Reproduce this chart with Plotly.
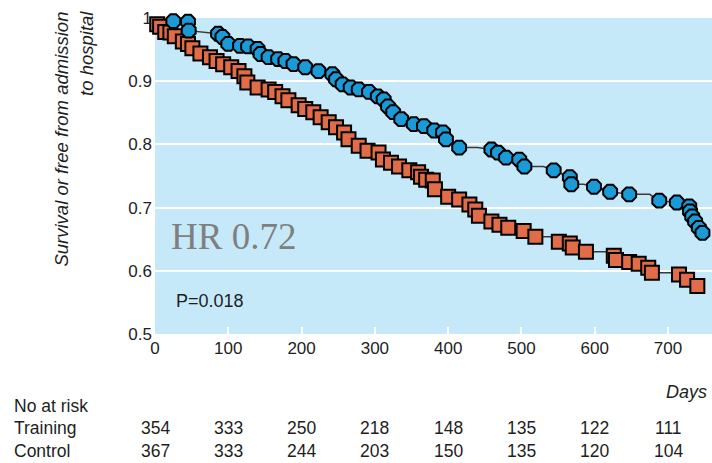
import plotly.graph_objects as go

# Kaplan-Meier style curves (days, survival or free from admission)
train_days = [0, 25, 45, 46, 86, 92, 100, 116, 127, 140, 144, 155, 168, 178, 189, 205, 223, 242, 247,
              256, 267, 278, 292, 304, 312, 318, 325, 336, 353, 367, 381, 393, 397, 415, 440, 459, 468,
              479, 497, 504, 530, 544, 566, 568, 585, 599, 621, 647, 675, 688, 712, 729, 730, 733, 737,
              742, 747]
train_surv = [1.0, 0.995, 0.994, 0.98, 0.975, 0.970, 0.959, 0.956, 0.955, 0.951, 0.943, 0.938, 0.935,
              0.932, 0.927, 0.922, 0.916, 0.911, 0.903, 0.895, 0.890, 0.887, 0.883, 0.876, 0.871, 0.860,
              0.851, 0.840, 0.832, 0.829, 0.822, 0.819, 0.808, 0.795, 0.795, 0.792, 0.787, 0.779, 0.776,
              0.765, 0.765, 0.759, 0.748, 0.737, 0.737, 0.733, 0.725, 0.721, 0.721, 0.711, 0.708, 0.702,
              0.694, 0.686, 0.678, 0.668, 0.660]
train_marked = [True, True, True, True, True, True, True, True, True, True, True, True, True, True, True,
                True, True, True, True, True, True, True, True, True, True, True, True, True, True, True,
                True, True, True, True, False, True, True, True, True, True, False, True, True, True, False,
                True, True, True, False, True, True, True, True, True, True, True, True]

ctrl_days = [0, 3, 7, 14, 21, 27, 38, 45, 51, 62, 75, 84, 93, 104, 114, 122, 126, 140, 155, 164, 174,
             182, 196, 205, 216, 226, 237, 247, 258, 264, 278, 290, 305, 311, 322, 333, 347, 359, 363,
             370, 379, 382, 400, 415, 429, 437, 442, 459, 470, 482, 503, 519, 541, 551, 566, 570, 588,
             617, 626, 629, 647, 660, 673, 678, 708, 715, 726, 740]
ctrl_surv = [1.0, 0.990, 0.986, 0.978, 0.977, 0.971, 0.963, 0.959, 0.952, 0.944, 0.938, 0.932, 0.927,
             0.922, 0.916, 0.908, 0.898, 0.890, 0.887, 0.883, 0.876, 0.870, 0.862, 0.856, 0.851, 0.843,
             0.835, 0.827, 0.819, 0.808, 0.798, 0.790, 0.787, 0.776, 0.771, 0.765, 0.759, 0.756, 0.749,
             0.744, 0.743, 0.729, 0.717, 0.713, 0.705, 0.697, 0.687, 0.678, 0.673, 0.668, 0.663, 0.654,
             0.654, 0.646, 0.643, 0.637, 0.630, 0.630, 0.624, 0.617, 0.614, 0.611, 0.605, 0.597, 0.597,
             0.594, 0.586, 0.576]
ctrl_marked = [True] * 52 + [False] + [True] * 4 + [False] + [True] * 6 + [False] + [True] * 3

x_ticks = [0, 100, 200, 300, 400, 500, 600, 700]
y_ticks = [0.5, 0.6, 0.7, 0.8, 0.9, 1.0]
y_tick_text = ["0.5", "0.6", "0.7", "0.8", "0.9", "1"]

risk_training = [354, 333, 250, 218, 148, 135, 122, 111]
risk_control = [367, 333, 244, 203, 150, 135, 120, 104]

TXT = "#1e1e1e"
FONT = "Liberation Sans, Arial, sans-serif"

fig = go.Figure()

# connecting lines
fig.add_trace(go.Scatter(x=ctrl_days, y=ctrl_surv, mode="lines",
                         line=dict(color="#3a3a3a", width=1.5), hoverinfo="skip",
                         showlegend=False, cliponaxis=False))
fig.add_trace(go.Scatter(x=train_days, y=train_surv, mode="lines",
                         line=dict(color="#3a3a3a", width=1.5), hoverinfo="skip",
                         showlegend=False, cliponaxis=False))

# markers
ctrl_mx = [d for d, m in zip(ctrl_days, ctrl_marked) if m][1:]
ctrl_my = [s for s, m in zip(ctrl_surv, ctrl_marked) if m][1:]
fig.add_trace(go.Scatter(x=ctrl_mx, y=ctrl_my, mode="markers", name="Control",
                         marker=dict(symbol="square", size=14, color="#e26c47",
                                     line=dict(color="#000000", width=2)),
                         showlegend=False, cliponaxis=False))
tr_mx = [d for d, m in zip(train_days, train_marked) if m][1:]
tr_my = [s for s, m in zip(train_surv, train_marked) if m][1:]
fig.add_trace(go.Scatter(x=tr_mx, y=tr_my, mode="markers", name="Training",
                         marker=dict(symbol="octagon", size=15, color="#1a9ad6",
                                     line=dict(color="#000000", width=2)),
                         showlegend=False, cliponaxis=False))

annotations = []
# y-axis title
annotations.append(dict(text="<i>Survival or free from admission<br>to hospital</i>",
                        xref="paper", yref="paper", x=-0.1454, y=1.03,
                        xanchor="center", yanchor="top", textangle=-90, align="right",
                        showarrow=False, font=dict(family=FONT, size=18.5, color=TXT)))
annotations.append(dict(text="<i>Days</i>", xref="paper", yref="paper", x=0.995, y=-0.184,
                        xanchor="right", yanchor="middle", showarrow=False,
                        font=dict(family=FONT, size=18, color=TXT)))
annotations.append(dict(text="HR 0.72", xref="paper", yref="paper", x=0.025, y=0.307,
                        xanchor="left", yanchor="middle", showarrow=False,
                        font=dict(family="Liberation Serif, Times New Roman, serif", size=37,
                                  color="#7f7f7f")))
annotations.append(dict(text="P=0.018", xref="paper", yref="paper", x=0.034, y=0.104,
                        xanchor="left", yanchor="middle", showarrow=False,
                        font=dict(family=FONT, size=18, color=TXT)))
# risk table
for label, yy in [("No at risk", -0.228), ("Training", -0.297), ("Control", -0.370)]:
    annotations.append(dict(text=label, xref="paper", yref="paper", x=-0.256, y=yy,
                            xanchor="left", yanchor="middle", showarrow=False,
                            font=dict(family=FONT, size=17.5, color=TXT)))
for xt, a, b in zip(x_ticks, risk_training, risk_control):
    annotations.append(dict(text=str(a), xref="x", yref="paper", x=xt, y=-0.297,
                            xanchor="center", yanchor="middle", showarrow=False,
                            font=dict(family=FONT, size=17.5, color=TXT)))
    annotations.append(dict(text=str(b), xref="x", yref="paper", x=xt, y=-0.370,
                            xanchor="center", yanchor="middle", showarrow=False,
                            font=dict(family=FONT, size=17.5, color=TXT)))

fig.update_layout(
    width=712, height=463,
    margin=dict(l=155, r=0, t=18, b=129),
    paper_bgcolor="white",
    plot_bgcolor="#c6e9fa",
    font=dict(family=FONT, size=17, color=TXT),
    annotations=annotations,
    xaxis=dict(range=[0, 760], tickvals=x_ticks, ticks="inside", ticklen=7, tickwidth=2,
               tickcolor="white", showgrid=False, zeroline=False, showline=False,
               ticklabelstandoff=2,
               tickfont=dict(family=FONT, size=17, color=TXT)),
    yaxis=dict(range=[0.5, 1.0], tickvals=y_ticks, ticktext=y_tick_text, ticks="",
               showgrid=True, gridcolor="white", gridwidth=2, zeroline=False, showline=False,
               ticklabelstandoff=2,
               tickfont=dict(family=FONT, size=17, color=TXT)),
)

fig.write_html("out.html")
